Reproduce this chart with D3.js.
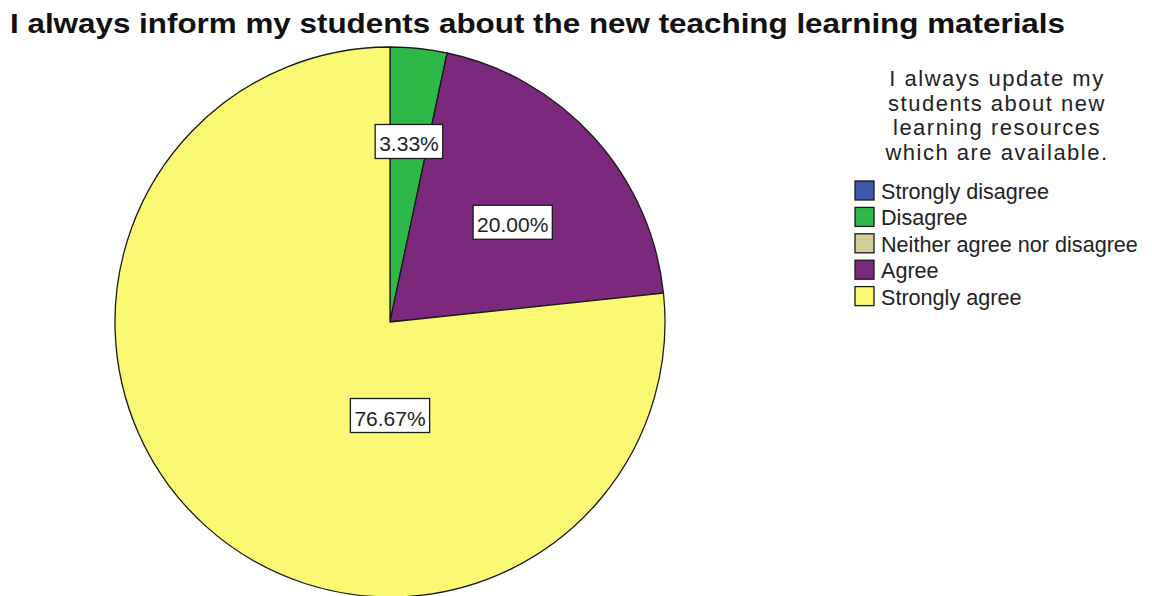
<!DOCTYPE html>
<html>
<head>
<meta charset="utf-8">
<script src="https://cdn.jsdelivr.net/npm/d3@7/dist/d3.min.js"></script>
<style>
  html, body { margin: 0; padding: 0; background: #ffffff; }
  svg { display: block; font-family: "Liberation Sans", Arial, sans-serif; }
</style>
</head>
<body>
<svg id="chart" width="1152" height="596"></svg>
<script>
// Survey responses (percent of respondents)
const categories = ["Strongly disagree", "Disagree", "Neither agree nor disagree", "Agree", "Strongly agree"];
const percents = [0, 3.33, 0, 20.00, 76.67];
const colors = ["#3E58AC", "#2EB848", "#D3CE97", "#7C287D", "#FBF873"];
const chartTitle = "I always inform my students about the new teaching learning materials";
const legendTitle = ["I always update my", "students about new", "learning resources", "which are available."];

const svg = d3.select("#chart");

// Pie geometry
const cx = 390, cy = 322, R = 275;

// Where each value label sits: fraction of the radius, and an optional fixed angle
const labelPlacement = {
  "Disagree": { r: 0.66 },
  "Agree": { r: 0.575, angle: 50.9 * Math.PI / 180 },
  "Strongly agree": { r: 0.34, angle: Math.PI }
};

const rows = categories.map((c, i) => ({ category: c, value: percents[i], color: colors[i] }));

const pie = d3.pie().sort(null).value(d => d.value);
const arcs = pie(rows);
const arc = d3.arc().innerRadius(0).outerRadius(R);

const g = svg.append("g").attr("transform", `translate(${cx},${cy})`);

g.selectAll("path.slice")
  .data(arcs.filter(a => a.data.value > 0))
  .join("path")
  .attr("class", "slice")
  .attr("d", arc)
  .attr("fill", d => d.data.color)
  .attr("stroke", "#1a1a1a")
  .attr("stroke-width", 1.3)
  .attr("stroke-linejoin", "round");

// Value labels in white boxes
const fmt = v => v.toFixed(2) + "%";
const labels = g.selectAll("g.vlabel")
  .data(arcs.filter(a => a.data.value > 0))
  .join("g")
  .attr("class", "vlabel")
  .attr("transform", d => {
    const p = labelPlacement[d.data.category] || { r: 0.6 };
    const a = p.angle !== undefined ? p.angle : (d.startAngle + d.endAngle) / 2;
    const rr = p.r * R;
    return `translate(${rr * Math.sin(a)},${-rr * Math.cos(a)})`;
  });

labels.each(function(d) {
  const sel = d3.select(this);
  const rect = sel.append("rect");
  const t = sel.append("text")
    .attr("text-anchor", "middle")
    .attr("y", 10)
    .attr("font-size", 21)
    .attr("fill", "#222")
    .text(fmt(d.data.value));
  const w = t.node().getComputedTextLength();
  rect.attr("x", -w / 2 - 4)
    .attr("y", -17)
    .attr("width", w + 8)
    .attr("height", 34)
    .attr("fill", "#ffffff")
    .attr("stroke", "#1a1a1a")
    .attr("stroke-width", 1.3);
});

// Chart title (stretched to the full heading width)
svg.append("text")
  .attr("x", 10)
  .attr("y", 33)
  .attr("font-size", 28)
  .attr("font-weight", "bold")
  .attr("fill", "#111")
  .attr("textLength", 1055)
  .attr("lengthAdjust", "spacingAndGlyphs")
  .text(chartTitle);

// Legend
const legend = svg.append("g");
legend.selectAll("text.ltitle")
  .data(legendTitle)
  .join("text")
  .attr("class", "ltitle")
  .attr("x", 997)
  .attr("y", (d, i) => 86 + i * 24.7)
  .attr("text-anchor", "middle")
  .attr("font-size", 22)
  .attr("letter-spacing", 1.5)
  .attr("fill", "#222")
  .text(d => d);

const items = legend.selectAll("g.item")
  .data(rows)
  .join("g")
  .attr("class", "item")
  .attr("transform", (d, i) => `translate(855,${181 + i * 26.4})`);

items.append("rect")
  .attr("width", 19)
  .attr("height", 19)
  .attr("fill", d => d.color)
  .attr("stroke", "#1a1a1a")
  .attr("stroke-width", 1.3);

items.append("text")
  .attr("x", 26)
  .attr("y", 18)
  .attr("font-size", 21.6)
  .attr("fill", "#222")
  .text(d => d.category);
</script>
</body>
</html>
